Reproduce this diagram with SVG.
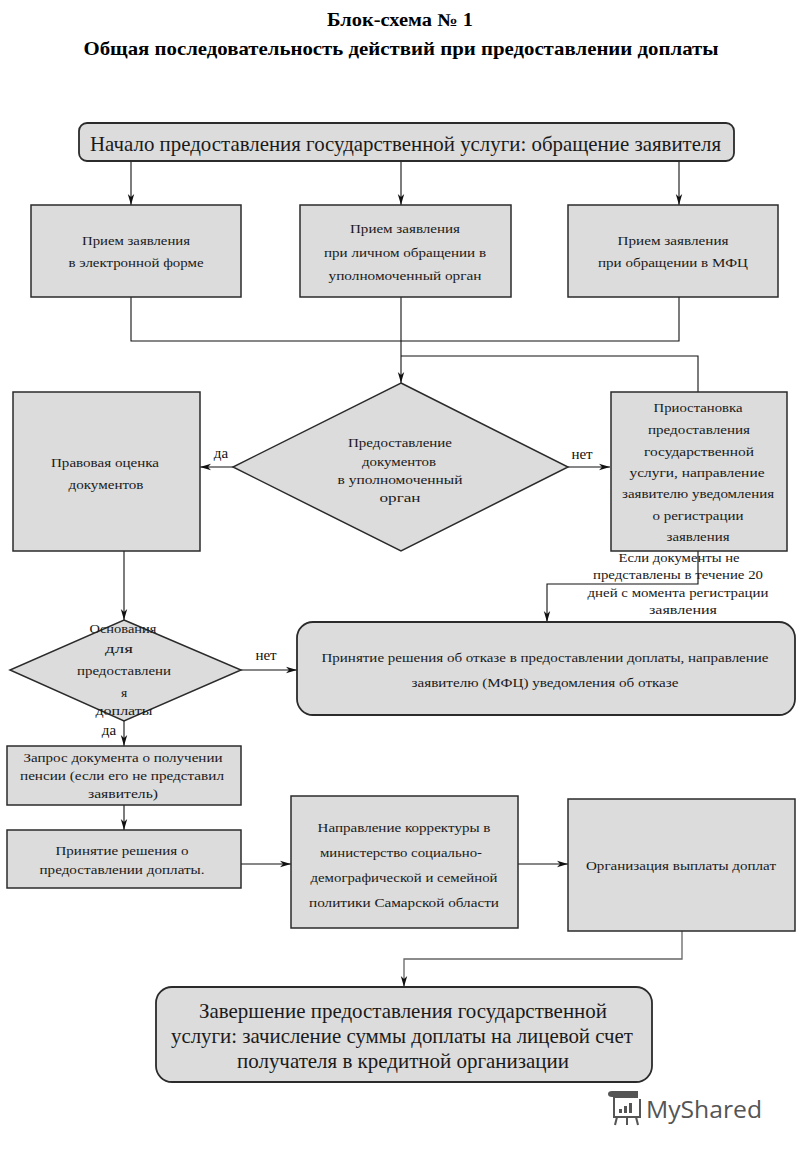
<svg xmlns="http://www.w3.org/2000/svg" width="800" height="1156" viewBox="0 0 800 1156" font-family="Liberation Serif, Times New Roman, serif">
<style>
.bg{fill:#ffffff}
.box{fill:#dcdcdc;stroke:#2b2b2b;stroke-width:1.5}
.rbox{fill:#dcdcdc;stroke:#2b2b2b;stroke-width:1.8}
.t{font-family:"Liberation Serif","Times New Roman",serif;font-size:13.5px;fill:#1a1a1a;text-anchor:middle}
.big{font-size:21px}
.title{font-family:"Liberation Serif","Times New Roman",serif;font-weight:bold;fill:#000;text-anchor:middle}
.lbl{font-family:"Liberation Serif","Times New Roman",serif;font-size:15px;fill:#111;text-anchor:middle}
.c{fill:none;stroke:#111;stroke-width:1.1}
.cg{fill:none;stroke:#666;stroke-width:1.3}
.logo{font-family:"Open Sans","Noto Sans",sans-serif;font-size:23px;fill:#555}
</style>
<defs>
<marker id="arr" markerUnits="userSpaceOnUse" markerWidth="12" markerHeight="8" refX="11" refY="4" orient="auto">
<path d="M0,0.8 L11,4 L0,7.2 L3,4 z" fill="#111"/>
</marker>
</defs>
<rect class="bg" x="0" y="0" width="800" height="1156"/>

<g id="titles">
<text class="title" x="400" y="26" font-size="18" textLength="146" lengthAdjust="spacingAndGlyphs">Блок-схема № 1</text>
<text class="title" x="401" y="55" font-size="19" textLength="635" lengthAdjust="spacingAndGlyphs">Общая последовательность действий при предоставлении доплаты</text>
</g>

<g id="connectors">
<line class="c" x1="131" y1="160" x2="131" y2="205" marker-end="url(#arr)"/>
<line class="c" x1="401" y1="160" x2="401" y2="205" marker-end="url(#arr)"/>
<line class="c" x1="679" y1="160" x2="679" y2="205" marker-end="url(#arr)"/>
<polyline class="c" points="131,297 131,341 679,341 679,297"/>
<line class="c" x1="401" y1="297" x2="401" y2="383" marker-end="url(#arr)"/>
<polyline class="c" points="698,392 698,356 401,356"/>
<line class="c" x1="233" y1="467" x2="200" y2="467" marker-end="url(#arr)"/>
<line class="c" x1="568" y1="467" x2="610" y2="467" marker-end="url(#arr)"/>
<line class="c" x1="124" y1="551" x2="124" y2="620" marker-end="url(#arr)"/>
<polyline class="c" points="698,551 698,584 547,584 547,622" marker-end="url(#arr)"/>
<line class="c" x1="241" y1="670" x2="297" y2="670" marker-end="url(#arr)"/>
<line class="c" x1="124" y1="721" x2="124" y2="746" marker-end="url(#arr)"/>
<line class="c" x1="124" y1="805" x2="124" y2="830" marker-end="url(#arr)"/>
<line class="c" x1="241" y1="864" x2="291" y2="864" marker-end="url(#arr)"/>
<line class="c" x1="518" y1="864" x2="568" y2="864" marker-end="url(#arr)"/>
<polyline class="cg" points="682,931 682,959 404,959 404,987" marker-end="url(#arr)"/>
<text class="lbl" x="221" y="458">да</text>
<text class="lbl" x="582" y="459">нет</text>
<text class="lbl" x="266" y="660">нет</text>
<text class="lbl" x="109" y="735">да</text>
<text class="t" x="679" y="562" textLength="121" lengthAdjust="spacingAndGlyphs">Если документы не</text>
<text class="t" x="678" y="579" textLength="170" lengthAdjust="spacingAndGlyphs">представлены в течение 20</text>
<text class="t" x="678" y="597" textLength="181" lengthAdjust="spacingAndGlyphs">дней с момента регистрации</text>
<text class="t" x="683" y="614" textLength="68" lengthAdjust="spacingAndGlyphs">заявления</text>
</g>

<g id="start">
<rect class="rbox" x="79" y="123" width="655" height="38" rx="8"/>
<text class="t big" x="405.5" y="151" textLength="631" lengthAdjust="spacingAndGlyphs">Начало предоставления государственной услуги: обращение заявителя</text>
</g>

<g id="recv-electronic">
<rect class="box" x="31" y="205" width="210" height="92"/>
<text class="t" x="136" y="245" textLength="108" lengthAdjust="spacingAndGlyphs">Прием заявления</text>
<text class="t" x="136" y="267" textLength="135" lengthAdjust="spacingAndGlyphs">в электронной форме</text>
</g>

<g id="recv-personal">
<rect class="box" x="300" y="205" width="211" height="92"/>
<text class="t" x="405" y="233" textLength="110" lengthAdjust="spacingAndGlyphs">Прием заявления</text>
<text class="t" x="405" y="257" textLength="162" lengthAdjust="spacingAndGlyphs">при личном обращении в</text>
<text class="t" x="405" y="280" textLength="153" lengthAdjust="spacingAndGlyphs">уполномоченный орган</text>
</g>

<g id="recv-mfc">
<rect class="box" x="568" y="205" width="210" height="92"/>
<text class="t" x="673" y="245" textLength="111" lengthAdjust="spacingAndGlyphs">Прием заявления</text>
<text class="t" x="673" y="267" textLength="150" lengthAdjust="spacingAndGlyphs">при обращении в МФЦ</text>
</g>

<g id="legal-eval">
<rect class="box" x="13" y="392" width="187" height="159"/>
<text class="t" x="105" y="467" textLength="108" lengthAdjust="spacingAndGlyphs">Правовая оценка</text>
<text class="t" x="106" y="489" textLength="75" lengthAdjust="spacingAndGlyphs">документов</text>
</g>

<g id="docs-decision">
<polygon class="box" points="401,383 568,467 401,551 233,467"/>
<text class="t" x="400" y="447" textLength="104" lengthAdjust="spacingAndGlyphs">Предоставление</text>
<text class="t" x="399" y="466" textLength="74" lengthAdjust="spacingAndGlyphs">документов</text>
<text class="t" x="400" y="484" textLength="125" lengthAdjust="spacingAndGlyphs">в уполномоченный</text>
<text class="t" x="400" y="502" textLength="41" lengthAdjust="spacingAndGlyphs">орган</text>
</g>

<g id="suspend">
<rect class="box" x="611" y="392" width="176" height="159"/>
<text class="t" x="698" y="412" textLength="89" lengthAdjust="spacingAndGlyphs">Приостановка</text>
<text class="t" x="699" y="434" textLength="102" lengthAdjust="spacingAndGlyphs">предоставления</text>
<text class="t" x="699" y="456" textLength="110" lengthAdjust="spacingAndGlyphs">государственной</text>
<text class="t" x="697" y="477" textLength="135" lengthAdjust="spacingAndGlyphs">услуги, направление</text>
<text class="t" x="698" y="498" textLength="152" lengthAdjust="spacingAndGlyphs">заявителю уведомления</text>
<text class="t" x="698" y="520" textLength="91" lengthAdjust="spacingAndGlyphs">о регистрации</text>
<text class="t" x="698" y="541" textLength="63" lengthAdjust="spacingAndGlyphs">заявления</text>
</g>

<g id="grounds-decision">
<polygon class="box" points="124,620 241,670 124,721 10,670"/>
<text class="t" x="123" y="633" textLength="67" lengthAdjust="spacingAndGlyphs">Основания</text>
<text class="t" x="119" y="653" textLength="28" lengthAdjust="spacingAndGlyphs">для</text>
<text class="t" x="124" y="675" textLength="94" lengthAdjust="spacingAndGlyphs">предоставлени</text>
<text class="t" x="124" y="697">я</text>
<text class="t" x="124" y="715" textLength="57" lengthAdjust="spacingAndGlyphs">доплаты</text>
</g>

<g id="refusal">
<rect class="rbox" x="297" y="622" width="498" height="93" rx="16"/>
<text class="t" x="545" y="662" textLength="447" lengthAdjust="spacingAndGlyphs">Принятие решения об отказе в предоставлении доплаты, направление</text>
<text class="t" x="545" y="687" textLength="267" lengthAdjust="spacingAndGlyphs">заявителю (МФЦ) уведомления об отказе</text>
</g>

<g id="pension-request">
<rect class="box" x="7" y="746" width="234" height="59"/>
<text class="t" x="123" y="762" textLength="199" lengthAdjust="spacingAndGlyphs">Запрос документа о получении</text>
<text class="t" x="122" y="780" textLength="204" lengthAdjust="spacingAndGlyphs">пенсии (если его не представил</text>
<text class="t" x="123" y="798" textLength="70" lengthAdjust="spacingAndGlyphs">заявитель)</text>
</g>

<g id="grant-decision">
<rect class="box" x="7" y="830" width="234" height="58"/>
<text class="t" x="122" y="855" textLength="133" lengthAdjust="spacingAndGlyphs">Принятие решения о</text>
<text class="t" x="122" y="874" textLength="165" lengthAdjust="spacingAndGlyphs">предоставлении доплаты.</text>
</g>

<g id="ministry">
<rect class="box" x="291" y="796" width="227" height="132"/>
<text class="t" x="404" y="832" textLength="173" lengthAdjust="spacingAndGlyphs">Направление корректуры в</text>
<text class="t" x="401" y="857" textLength="162" lengthAdjust="spacingAndGlyphs">министерство социально-</text>
<text class="t" x="404" y="882" textLength="187" lengthAdjust="spacingAndGlyphs">демографической и семейной</text>
<text class="t" x="404" y="907" textLength="190" lengthAdjust="spacingAndGlyphs">политики Самарской области</text>
</g>

<g id="payment">
<rect class="box" x="568" y="799" width="227" height="132"/>
<text class="t" x="681" y="870" textLength="190" lengthAdjust="spacingAndGlyphs">Организация выплаты доплат</text>
</g>

<g id="finish">
<rect class="rbox" x="156" y="987" width="496" height="95" rx="16"/>
<text class="t big" x="403" y="1018" textLength="408" lengthAdjust="spacingAndGlyphs">Завершение предоставления государственной</text>
<text class="t big" x="402" y="1043" textLength="462" lengthAdjust="spacingAndGlyphs">услуги: зачисление суммы доплаты на лицевой счет</text>
<text class="t big" x="403" y="1068" textLength="332" lengthAdjust="spacingAndGlyphs">получателя в кредитной организации</text>
</g>

<g id="watermark">
<g fill="none" stroke="#555" stroke-width="2">
<path d="M614,1097 h24 M614,1097 v20 h26 v-18"/>
<line x1="617" y1="1117" x2="615" y2="1125"/>
<line x1="627" y1="1117" x2="627" y2="1125"/>
<line x1="636" y1="1117" x2="638" y2="1125"/>
</g>
<path d="M608,1094 q0,-3 4,-3 h26 v6 h-26 q-4,0 -4,-3z" fill="#555"/>
<rect x="619" y="1109" width="3" height="4" fill="#555"/>
<rect x="624" y="1106" width="3" height="7" fill="#555"/>
<rect x="629" y="1103" width="3" height="10" fill="#555"/>
<text class="logo" x="646" y="1118" textLength="116" lengthAdjust="spacingAndGlyphs">MyShared</text>
</g>
</svg>
